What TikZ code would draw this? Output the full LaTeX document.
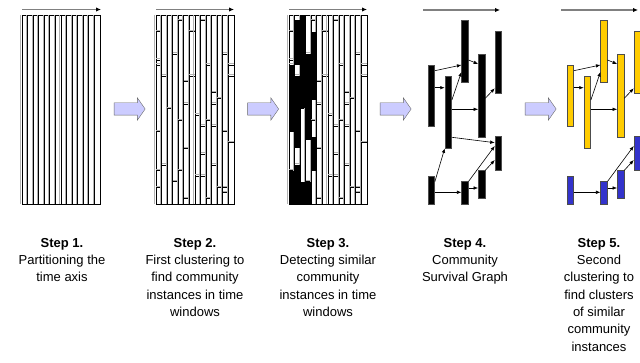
\documentclass[tikz,border=0pt]{standalone}
\usepackage{fontspec}
\setmainfont{Liberation Sans}
\usetikzlibrary{arrows.meta,shapes.arrows}

\definecolor{lavender}{RGB}{204,204,255}
\definecolor{amber}{RGB}{255,204,0}
\definecolor{royal}{RGB}{51,51,204}

\begin{document}
\begin{tikzpicture}[x=1pt,y=-1pt,
    timeax/.style={draw=gray, line width=1.2pt, -{Latex[length=5pt,width=4.5pt,black]}},
    win/.style={draw=black, line width=0.9pt},
    winshade/.style={draw=gray!60, line width=0.8pt},
    blockarrow/.style={single arrow, draw=black!60, fill=lavender, minimum height=31pt,
      inner xsep=0pt, inner ysep=6pt, single arrow head extend=5pt, single arrow tip angle=110},
    bar/.style={rectangle, draw=black!70, line width=0.6pt, minimum width=6.5pt, inner sep=0pt},
    link/.style={line width=0.6pt, -{Latex[length=4.5pt,width=3.5pt]}},
    steptext/.style={align=center, anchor=north, inner sep=0pt, font=\fontsize{13}{17.3}\selectfont}
]
\useasboundingbox (0,0) rectangle (640,363);
\def\w{5.5714}

%% time axes
\draw[timeax] (22,9.5) -- (101,9.5);
\draw[timeax] (156,9.5) -- (234,9.5);
\draw[timeax] (289,9.5) -- (367,9.5);
\draw[timeax] (423,10) -- (500,10);
\draw[timeax] (561,10) -- (638,10);

%% Step 1: time windows
\foreach \i in {0,...,13} {
  \draw[winshade] (22+\i*\w-1.2,15) -- (22+\i*\w-1.2,204);
  \draw[win] (22+\i*\w,15) rectangle (22+\i*\w+\w,204);
}

%% Steps 2 and 3: community instances in each window
\foreach \px in {156,289} {
  \foreach \c/\ys in {0/{31.7,60,65,131.7,170.7,187.3}, 1/{76,165}, 2/{108.5},
      3/{54,181.7}, 4/{20.7,120.7,170.7}, 5/{81.7,104,148.3,198.3}, 6/{31.7,76},
      7/{115,176}, 8/{20.7,126,154,176}, 9/{65,120.7,198.3}, 10/{92.7,104,126,165},
      11/{98.3,187.3}, 12/{54,131.7,187.3,192.7}, 13/{65,76,142.7}} {
    \draw[winshade] (\px+\c*\w-1.2,15) -- (\px+\c*\w-1.2,204);
    \draw[win] (\px+\c*\w,15) rectangle (\px+\c*\w+\w,204);
    \foreach \y in \ys {
      \draw[winshade] (\px+\c*\w,\y-1.3) -- ++(\w,0);
      \draw[win] (\px+\c*\w,\y) -- ++(\w,0);
    }
  }
}
% similar instances found in step 3
\foreach \c/\a/\b in {0/65/131.7, 0/170.7/204, 1/20/65, 1/76/148, 1/165/204,
    2/15/108.5, 2/182/204, 3/54/140, 3/181.7/204, 4/31.7/100, 4/137/170.7}
  \fill[black] (289+\c*\w,\a) rectangle ++(\w,\b-\a);

%% block arrows between steps
\node[blockarrow] (ar1) at (127.5,109) {};
\node[blockarrow] (ar2) at (261,109) {};
\node[blockarrow] (ar3) at (393.5,109) {};
\node[blockarrow] (ar4) at (538.5,109) {};

%% Step 4: survival graph
\node[bar, fill=black, minimum height=61.7pt] (a4) at (431.3,95.85) {};
\node[bar, fill=black, minimum height=72pt] (b4) at (448.3,112) {};
\node[bar, fill=black, minimum height=62pt] (c4) at (465,51.7) {};
\node[bar, fill=black, minimum height=83pt] (d4) at (481.7,95.5) {};
\node[bar, fill=black, minimum height=61.6pt] (e4) at (498.3,62.5) {};
\node[bar, fill=black, minimum height=28pt] (f4) at (431.3,190) {};
\node[bar, fill=black, minimum height=22.3pt] (g4) at (465,192.85) {};
\node[bar, fill=black, minimum height=27.6pt] (h4) at (481.7,184.5) {};
\node[bar, fill=black, minimum height=34pt] (i4) at (498.3,153.7) {};

\draw[link] (a4.east |- 0,70.7) -- (c4.west |- 0,65);
\draw[link] (a4.east |- 0,87.7) -- (b4.west |- 0,87.7);
\draw[link] (b4.east |- 0,100) -- (c4.west |- 0,72);
\draw[link] (c4.east |- 0,60) -- (d4.west |- 0,64);
\draw[link] (b4.east |- 0,109.3) -- (d4.west |- 0,109.3);
\draw[link] (d4.east |- 0,98.3) -- (e4.west |- 0,88.3);
\draw[link] (b4.east |- 0,137.3) -- (i4.west |- 0,142.7);
\draw[link] (f4.east |- 0,181.7) -- (b4.south west);
\draw[link] (f4.east |- 0,192.3) -- (g4.west |- 0,192.3);
\draw[link] (g4.north east) -- (i4.west |- 0,146);
\draw[link] (g4.east |- 0,188) -- (h4.west |- 0,188);
\draw[link] (h4.north east) -- (i4.west |- 0,160);

%% Step 5: clusters of instances
\node[bar, fill=amber, minimum height=61.7pt] (a5) at (570.3,95.85) {};
\node[bar, fill=amber, minimum height=72pt] (b5) at (587.3,112) {};
\node[bar, fill=amber, minimum height=62pt] (c5) at (604,51.7) {};
\node[bar, fill=amber, minimum height=83pt] (d5) at (620.7,95.5) {};
\node[bar, fill=amber, minimum height=61.6pt] (e5) at (637.3,62.5) {};
\node[bar, fill=royal, minimum height=28pt] (f5) at (570.3,190) {};
\node[bar, fill=royal, minimum height=22.3pt] (g5) at (604,192.85) {};
\node[bar, fill=royal, minimum height=27.6pt] (h5) at (620.7,184.5) {};
\node[bar, fill=royal, minimum height=34pt] (i5) at (637.3,153.7) {};

\draw[link] (a5.east |- 0,70.7) -- (c5.west |- 0,65);
\draw[link] (a5.east |- 0,87.7) -- (b5.west |- 0,87.7);
\draw[link] (b5.east |- 0,100) -- (c5.west |- 0,72);
\draw[link] (c5.east |- 0,60) -- (d5.west |- 0,64);
\draw[link] (b5.east |- 0,109.3) -- (d5.west |- 0,109.3);
\draw[link] (d5.east |- 0,98.3) -- (e5.west |- 0,88.3);
\draw[link] (f5.east |- 0,192.3) -- (g5.west |- 0,192.3);
\draw[link] (g5.north east) -- (i5.west |- 0,146);
\draw[link] (g5.east |- 0,188) -- (h5.west |- 0,188);
\draw[link] (h5.north east) -- (i5.west |- 0,160);

%% captions
\node[steptext] (step1) at (62,238) {\textbf{Step 1.}\\Partitioning the\\time axis};
\node[steptext] (step2) at (195,238) {\textbf{Step 2.}\\First clustering to\\find community\\instances in time\\windows};
\node[steptext] (step3) at (328,238) {\textbf{Step 3.}\\Detecting similar\\community\\instances in time\\windows};
\node[steptext] (step4) at (465,238) {\textbf{Step 4.}\\Community\\Survival Graph};
\node[steptext] (step5) at (599,238) {\textbf{Step 5.}\\Second\\clustering to\\find clusters\\of similar\\community\\instances};
\end{tikzpicture}
\end{document}
